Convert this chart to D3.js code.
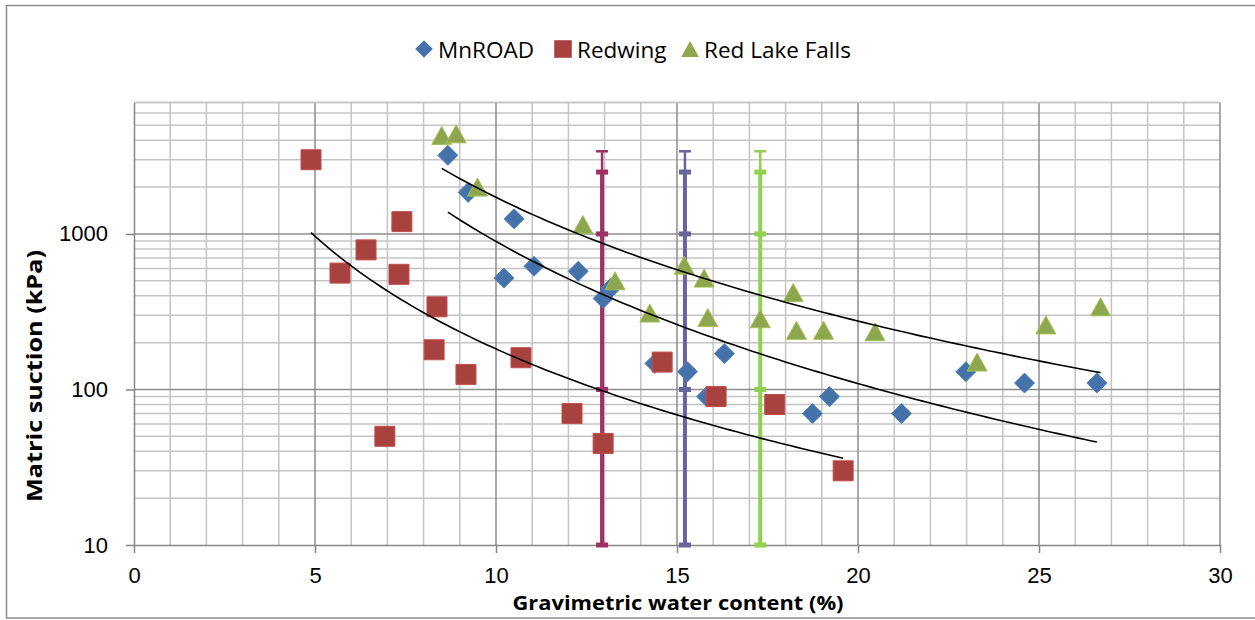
<!DOCTYPE html>
<html>
<head>
<meta charset="utf-8">
<script src="https://cdn.jsdelivr.net/npm/d3@7"></script>
<style>
    body { margin: 0; background: #fff; }
    svg { display: block; font-family: "Open Sans", sans-serif; }
    .tick text { font-size: 22px; fill: #000; }
    .axis path, .axis line { stroke: #868686; stroke-width: 1.5; }
</style>
</head>
<body>
<svg width="1255" height="620"></svg>
<script>
// Data
const seriesNames = ["MnROAD", "Redwing", "Red Lake Falls"];

const mnroadX = [8.67, 9.23, 10.5, 11.05, 10.22, 12.27, 12.96, 13.18, 14.39, 15.29, 16.31, 15.82, 18.74, 19.21, 21.2, 22.98, 24.6, 26.6];
const mnroadY = [3200, 1850, 1250, 620, 520, 575, 385, 450, 147, 130, 170, 90, 70, 90, 70, 130, 110, 110];

const redwingX = [4.89, 5.69, 6.41, 7.40, 7.32, 8.37, 8.29, 9.17, 10.69, 6.93, 12.1, 12.96, 14.59, 16.08, 17.7, 19.59];
const redwingY = [3000, 560, 790, 1200, 550, 340, 180, 125, 160, 50, 70, 45, 150, 90, 80, 30];

const redLakeX = [8.5, 8.9, 9.49, 12.4, 13.29, 14.25, 15.2, 15.75, 15.85, 17.3, 18.21, 18.3, 19.05, 20.47, 23.29, 25.19, 26.7];
const redLakeY = [4300, 4400, 2000, 1150, 500, 310, 630, 520, 290, 285, 420, 240, 240, 235, 150, 260, 340];

// vertical reference bars
const refX = [12.93, 15.22, 17.3];
const refLevels = [10, 100, 1000, 2500];
const refErrorTop = 3400;

const xTicks = [0, 5, 10, 15, 20, 25, 30];
const yTicks = [10, 100, 1000];
const xDomain = [0, 30];
const yDomain = [10, 7000];

window.addEventListener('load', () => {
    const svg = d3.select("svg"),
        margin = {top: 102.5, right: 35, bottom: 75, left: 134},
        width = +svg.attr("width") - margin.left - margin.right,
        height = +svg.attr("height") - margin.top - margin.bottom;

    const colors = {
        mnroad: '#4672AA',
        redwing: '#A8423F',
        redLake: '#8EA74E',
        ref: ['#9E3265', '#6A639E', '#92D050']
    };

    // outer frame
    svg.append("rect")
        .attr("x", 6.5)
        .attr("y", 5.5)
        .attr("width", 1260)
        .attr("height", 612.5)
        .attr("fill", "none")
        .attr("stroke", "#8c8c8c")
        .attr("stroke-width", 1.5);

    const g = svg.append("g")
        .attr("transform", "translate(" + margin.left + "," + margin.top + ")");

    const x = d3.scaleLinear().domain(xDomain).range([0, width]);
    const y = d3.scaleLog().domain(yDomain).range([height, 0]);

    // Grid
    const minorY = [];
    [10, 100, 1000].forEach(d => {
        for (let k = 2; k <= 9; k++) if (d * k <= yDomain[1]) minorY.push(d * k);
    });
    const xs = d3.range(xDomain[0], xDomain[1] + 1);

    g.append("g").selectAll("line")
        .data(xs.filter(d => d % 5 !== 0))
        .enter().append("line")
        .attr("x1", d => x(d)).attr("x2", d => x(d))
        .attr("y1", 0).attr("y2", height)
        .attr("stroke", "#c4c4c4").attr("stroke-width", 1.5);

    g.append("g").selectAll("line")
        .data(minorY)
        .enter().append("line")
        .attr("x1", 0).attr("x2", width)
        .attr("y1", d => y(d)).attr("y2", d => y(d))
        .attr("stroke", "#c4c4c4").attr("stroke-width", 1.5);

    g.append("g").selectAll("line")
        .data(xs.filter(d => d % 5 === 0 && d > 0))
        .enter().append("line")
        .attr("x1", d => x(d)).attr("x2", d => x(d))
        .attr("y1", 0).attr("y2", height)
        .attr("stroke", "#8c8c8c").attr("stroke-width", 1.5);

    g.append("g").selectAll("line")
        .data(yTicks.slice(1))
        .enter().append("line")
        .attr("x1", 0).attr("x2", width)
        .attr("y1", d => y(d)).attr("y2", d => y(d))
        .attr("stroke", "#8c8c8c").attr("stroke-width", 1.5);

    g.append("line")
        .attr("x1", 0).attr("x2", width)
        .attr("y1", 0).attr("y2", 0)
        .attr("stroke", "#c4c4c4").attr("stroke-width", 1.5);

    // Axes
    g.append("g")
        .attr("class", "x axis")
        .attr("transform", "translate(0," + height + ")")
        .call(d3.axisBottom(x).tickValues(xTicks).tickSize(8).tickPadding(14).tickSizeOuter(0))
        .call(a => a.selectAll(".tick text").attr("dy", "0.71em"));

    g.append("g")
        .attr("class", "y axis")
        .call(d3.axisLeft(y).tickValues(yTicks).tickFormat(d3.format("d")).tickSize(8).tickPadding(18).tickSizeOuter(0));

    // Reference bars
    refX.forEach((rx, i) => {
        const c = colors.ref[i];
        const bar = g.append("g");
        bar.append("line")
            .attr("x1", x(rx)).attr("x2", x(rx))
            .attr("y1", y(refLevels[refLevels.length - 1])).attr("y2", y(refErrorTop))
            .attr("stroke", c).attr("stroke-width", 2.5);
        bar.append("line")
            .attr("x1", x(rx) - 6).attr("x2", x(rx) + 6)
            .attr("y1", y(refErrorTop)).attr("y2", y(refErrorTop))
            .attr("stroke", c).attr("stroke-width", 2.5);
        bar.append("path")
            .datum(refLevels)
            .attr("fill", "none")
            .attr("stroke", c)
            .attr("stroke-width", 4)
            .attr("d", d3.line().x(() => x(rx)).y(d => y(d)));
        bar.selectAll("rect")
            .data(refLevels)
            .enter().append("rect")
            .attr("x", x(rx) - 6)
            .attr("y", d => y(d) - 2.5)
            .attr("width", 12)
            .attr("height", 5)
            .attr("fill", c);
    });

    // Markers
    const zip = (xv, yv) => xv.map((d, i) => ({x: d, y: yv[i]}));
    const mnroad = zip(mnroadX, mnroadY);
    const redwing = zip(redwingX, redwingY);
    const redLake = zip(redLakeX, redLakeY);

    const diamond = "M0,-10L10,0L0,10L-10,0Z";
    const square = "M-10,-10H10V10H-10Z";
    const triangle = "M0,-9L10,9H-10Z";

    function markers(data, path, color) {
        g.append("g").selectAll("path")
            .data(data)
            .enter().append("path")
            .attr("d", path)
            .attr("transform", d => "translate(" + x(d.x) + "," + y(d.y) + ")")
            .attr("fill", color)
            .attr("stroke", d3.color(color).brighter(0.4))
            .attr("stroke-width", 1);
    }
    markers(mnroad, diamond, colors.mnroad);
    markers(redwing, square, colors.redwing);
    markers(redLake, triangle, colors.redLake);

    // Power trendlines (least squares in log-log space, like Excel)
    function powerFit(data) {
        const lx = data.map(d => Math.log(d.x)), ly = data.map(d => Math.log(d.y));
        const mx = d3.mean(lx), my = d3.mean(ly);
        const b = d3.sum(lx, (v, i) => (v - mx) * (ly[i] - my)) / d3.sum(lx, v => (v - mx) * (v - mx));
        const a = Math.exp(my - b * mx);
        const ext = d3.extent(data, d => d.x);
        const pts = d3.range(0, 101).map(k => {
            const xv = ext[0] + (ext[1] - ext[0]) * k / 100;
            return {x: xv, y: a * Math.pow(xv, b)};
        });
        return pts;
    }
    const trend = d3.line().x(d => x(d.x)).y(d => y(d.y));
    [mnroad, redwing, redLake].forEach(s => {
        g.append("path")
            .datum(powerFit(s))
            .attr("fill", "none")
            .attr("stroke", "#000")
            .attr("stroke-width", 1.6)
            .attr("d", trend);
    });

    // Axis titles
    svg.append("text")
        .attr("x", 678)
        .attr("y", 610)
        .attr("text-anchor", "middle")
        .attr("font-size", 20)
        .attr("font-weight", "bold")
        .attr("textLength", 331)
        .attr("lengthAdjust", "spacingAndGlyphs")
        .text("Gravimetric water content (%)");

    svg.append("text")
        .attr("transform", "translate(42,376) rotate(-90)")
        .attr("text-anchor", "middle")
        .attr("font-size", 21)
        .attr("font-weight", "bold")
        .attr("textLength", 252)
        .attr("lengthAdjust", "spacingAndGlyphs")
        .text("Matric suction (kPa)");

    // Legend
    const legendItems = [
        {name: seriesNames[0], path: diamond, color: colors.mnroad, mx: 424, tx: 438},
        {name: seriesNames[1], path: square, color: colors.redwing, mx: 563, tx: 577},
        {name: seriesNames[2], path: triangle, color: colors.redLake, mx: 690, tx: 704}
    ];
    const legend = svg.append("g").attr("class", "legend");
    legendItems.forEach(item => {
        legend.append("path")
            .attr("d", item.path)
            .attr("transform", "translate(" + item.mx + ",49) scale(0.88)")
            .attr("fill", item.color);
        legend.append("text")
            .attr("x", item.tx)
            .attr("y", 57.5)
            .attr("font-size", 22.5)
            .text(item.name);
    });
});
</script>
</body>
</html>
